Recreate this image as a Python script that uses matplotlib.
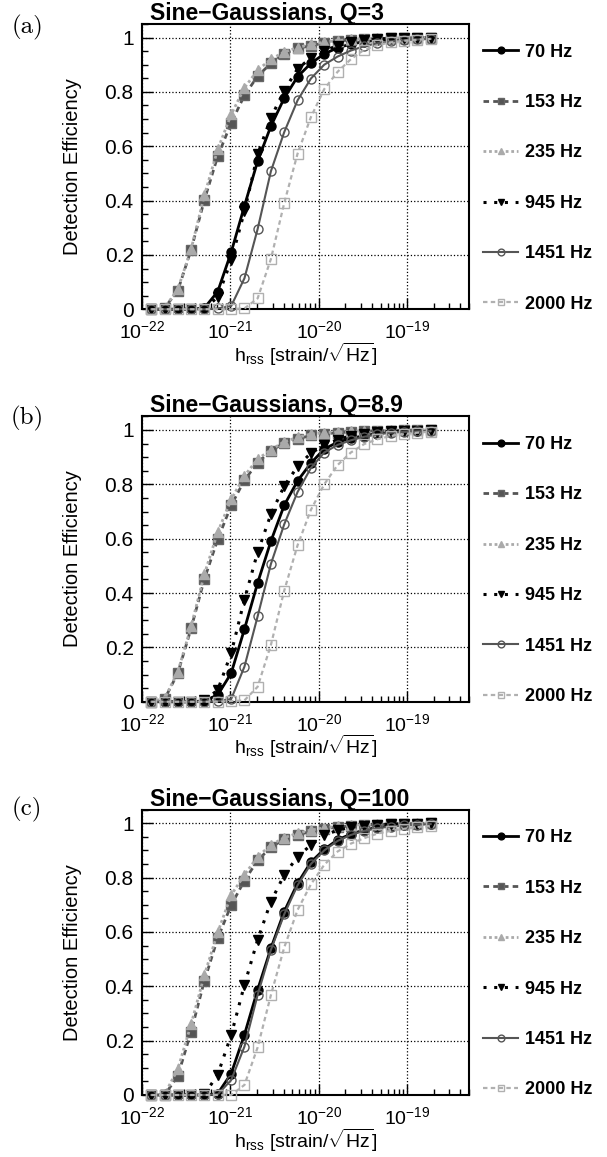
import matplotlib
matplotlib.use('Agg')
import matplotlib.pyplot as plt
from matplotlib.ticker import MultipleLocator, LogLocator, FuncFormatter, NullFormatter

plt.rcParams['font.family'] = ['Liberation Sans', 'DejaVu Sans']
plt.rcParams['mathtext.fontset'] = 'custom'
plt.rcParams['mathtext.rm'] = 'Liberation Sans'
plt.rcParams['mathtext.it'] = 'Liberation Sans:italic'
plt.rcParams['mathtext.bf'] = 'Liberation Sans:bold'

# injected hrss amplitudes (same grid for all frequencies)
hrss = [1.27e-22, 1.80e-22, 2.54e-22, 3.59e-22, 5.08e-22, 7.18e-22, 1.02e-21, 1.44e-21,
        2.03e-21, 2.87e-21, 4.06e-21, 5.75e-21, 8.13e-21, 1.15e-20, 1.63e-20, 2.30e-20,
        3.25e-20, 4.60e-20, 6.50e-20, 9.20e-20, 1.30e-19, 1.84e-19]

freqs = ['70 Hz', '153 Hz', '235 Hz', '945 Hz', '1451 Hz', '2000 Hz']
titles = ['Sine\u2212Gaussians, Q=3', 'Sine\u2212Gaussians, Q=8.9', 'Sine\u2212Gaussians, Q=100']
tags = ['(a)', '(b)', '(c)']

# efficiencies, order follows freqs
eff_q3 = [
    [0, 0, 0, 0, 0.005, 0.065, 0.21, 0.38, 0.545, 0.674, 0.777, 0.856, 0.905, 0.94, 0.962, 0.976, 0.985, 0.99, 0.994, 0.996, 0.998, 0.999],
    [0, 0.005, 0.069, 0.219, 0.403, 0.563, 0.686, 0.787, 0.858, 0.905, 0.941, 0.96, 0.97, 0.98, 0.987, 0.991, 0.994, 0.996, 0.998, 0.999, 0.999, 1.0],
    [0, 0.005, 0.074, 0.221, 0.42, 0.588, 0.717, 0.815, 0.88, 0.92, 0.947, 0.963, 0.975, 0.983, 0.989, 0.993, 0.995, 0.997, 0.998, 0.999, 1.0, 1.0],
    [0, 0, 0, 0, 0.002, 0.045, 0.18, 0.36, 0.57, 0.705, 0.805, 0.885, 0.925, 0.952, 0.97, 0.982, 0.99, 0.994, 0.997, 0.998, 0.999, 1.0],
    [0, 0, 0, 0, 0, 0.003, 0.012, 0.114, 0.295, 0.508, 0.652, 0.769, 0.849, 0.9, 0.93, 0.952, 0.968, 0.979, 0.986, 0.99, 0.993, 0.995],
    [0, 0, 0, 0, 0, 0, 0, 0.003, 0.04, 0.185, 0.391, 0.573, 0.707, 0.81, 0.874, 0.92, 0.955, 0.972, 0.982, 0.988, 0.992, 0.995],
]
eff_q89 = [
    [0, 0, 0, 0, 0.003, 0.025, 0.105, 0.267, 0.437, 0.591, 0.723, 0.813, 0.878, 0.93, 0.955, 0.969, 0.979, 0.987, 0.993, 0.996, 0.998, 0.999],
    [0, 0.01, 0.105, 0.27, 0.452, 0.597, 0.723, 0.815, 0.88, 0.924, 0.952, 0.967, 0.98, 0.986, 0.99, 0.993, 0.995, 0.997, 0.998, 0.999, 1.0, 1.0],
    [0, 0.012, 0.11, 0.277, 0.47, 0.624, 0.745, 0.831, 0.893, 0.927, 0.957, 0.973, 0.985, 0.99, 0.993, 0.995, 0.997, 0.998, 0.999, 1.0, 1.0, 1.0],
    [0, 0, 0, 0, 0.005, 0.043, 0.179, 0.376, 0.55, 0.69, 0.794, 0.866, 0.915, 0.944, 0.965, 0.978, 0.987, 0.992, 0.995, 0.997, 0.998, 0.999],
    [0, 0, 0, 0, 0, 0.002, 0.01, 0.129, 0.314, 0.507, 0.653, 0.772, 0.86, 0.917, 0.945, 0.962, 0.975, 0.984, 0.99, 0.993, 0.995, 0.997],
    [0, 0, 0, 0, 0, 0, 0.002, 0.005, 0.055, 0.209, 0.409, 0.576, 0.706, 0.8, 0.871, 0.917, 0.948, 0.966, 0.978, 0.985, 0.99, 0.994],
]
eff_q100 = [
    [0, 0, 0, 0, 0, 0.005, 0.079, 0.222, 0.387, 0.54, 0.675, 0.779, 0.857, 0.904, 0.939, 0.96, 0.975, 0.985, 0.99, 0.994, 0.997, 0.999],
    [0, 0, 0.07, 0.233, 0.421, 0.577, 0.699, 0.789, 0.863, 0.912, 0.941, 0.957, 0.97, 0.98, 0.986, 0.99, 0.993, 0.995, 0.997, 0.998, 0.999, 1.0],
    [0, 0.003, 0.095, 0.26, 0.442, 0.598, 0.736, 0.81, 0.877, 0.92, 0.947, 0.963, 0.975, 0.983, 0.989, 0.993, 0.995, 0.997, 0.998, 0.999, 1.0, 1.0],
    [0, 0, 0, 0, 0.002, 0.075, 0.221, 0.405, 0.571, 0.712, 0.81, 0.877, 0.92, 0.955, 0.975, 0.985, 0.99, 0.994, 0.997, 0.998, 0.999, 1.0],
    [0, 0, 0, 0, 0, 0.002, 0.055, 0.178, 0.368, 0.534, 0.665, 0.772, 0.85, 0.9, 0.935, 0.957, 0.972, 0.982, 0.988, 0.992, 0.995, 0.997],
    [0, 0, 0, 0, 0, 0, 0, 0.037, 0.175, 0.368, 0.543, 0.681, 0.775, 0.847, 0.896, 0.925, 0.945, 0.962, 0.972, 0.98, 0.986, 0.99],
]
panels = [eff_q3, eff_q89, eff_q100]

styles = [
    dict(color='k', ls='-', lw=2.0, marker='o', mfc='k', mec='k'),
    dict(color='#555555', ls=(0, (2, 1.5)), lw=2.0, marker='s', mfc='#555555', mec='#666666'),
    dict(color='#aaaaaa', ls=(0, (1, 1)), lw=2.0, marker='^', mfc='#aaaaaa', mec='#aaaaaa'),
    dict(color='k', ls=(0, (1, 2.5)), lw=2.2, marker='v', mfc='k', mec='k'),
    dict(color='#555555', ls='-', lw=1.5, marker='o', mfc='none', mec='#555555'),
    dict(color='#b0b0b0', ls=(0, (2, 1.5)), lw=1.6, marker='s', mfc='none', mec='#b0b0b0'),
]

fig = plt.figure(figsize=(6.07, 11.57), dpi=100)
bottoms = [0.7327, 0.3935, 0.0536]
tag_y = [27, 418, 809]

for k in range(3):
    ax = fig.add_axes([0.2340, bottoms[k], 0.5387, 0.2466])
    for j in range(6):
        st = styles[j]
        ax.plot(hrss, panels[k][j], color=st['color'], ls=st['ls'], lw=st['lw'],
                marker=st['marker'], ms=6.5, mfc=st['mfc'], mec=st['mec'], mew=1.0,
                label=freqs[j], clip_on=False, zorder=3 + j)
    ax.set_xscale('log')
    ax.set_xlim(1e-22, 5e-19)
    ax.set_ylim(0, 1.05)
    ax.yaxis.set_major_locator(MultipleLocator(0.2))
    ax.yaxis.set_minor_locator(MultipleLocator(0.05))
    ax.yaxis.set_major_formatter(FuncFormatter(lambda v, p: '%g' % round(v, 2)))
    ax.xaxis.set_major_locator(LogLocator(base=10, numticks=10))
    ax.xaxis.set_minor_locator(LogLocator(base=10, subs=range(2, 10), numticks=20))
    ax.xaxis.set_minor_formatter(NullFormatter())
    ax.tick_params(which='both', direction='in', top=False, right=False, width=1)
    ax.tick_params(which='major', length=8)
    ax.tick_params(which='minor', length=4.5)
    ax.tick_params(axis='y', pad=6, labelsize=15)
    ax.tick_params(axis='x', pad=8, labelsize=14)
    ax.grid(True, which='major', ls=':', color='k', lw=0.9)
    ax.set_axisbelow(True)
    for s in ax.spines.values():
        s.set_linewidth(1.5)
    ax.set_ylabel('Detection Efficiency', fontsize=14.5)
    ax.yaxis.set_label_coords(-0.183, 0.5)
    ax.set_xlabel(r'h$_{\rm rss}$ [strain/$\sqrt{\rm Hz}$]', fontsize=14, va='top')
    ax.xaxis.set_label_coords(0.5, -0.11)
    ax.text(0.024, 1.014, titles[k], transform=ax.transAxes, fontsize=16.5,
            fontweight='bold', va='baseline', ha='left')
    ax.legend(loc='upper left', bbox_to_anchor=(1.043, 0.931), frameon=False,
              borderpad=0, borderaxespad=0, handlelength=1.95, handletextpad=0.38,
              labelspacing=1.85, prop=dict(weight='bold', size=13), markerscale=0.75)
    fig.text(27 / 607, 1 - tag_y[k] / 1157, tags[k], ha='center', va='center',
             family='cmr10', fontsize=18)

fig.savefig('out.png', dpi=100)
